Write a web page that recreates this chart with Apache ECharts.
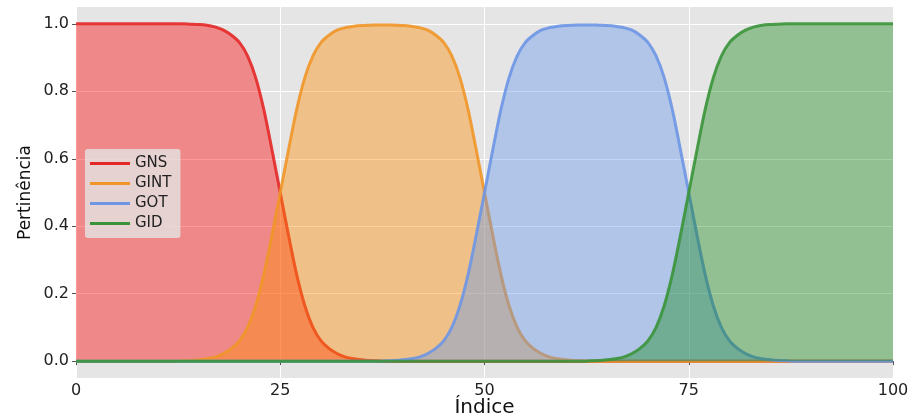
<!DOCTYPE html>
<html>
<head>
<meta charset="utf-8">
<script src="https://cdn.jsdelivr.net/npm/echarts@6/dist/echarts.min.js"></script>
<style>
  html, body { margin: 0; padding: 0; background: #ffffff; }
  #chart { width: 914px; height: 416px; }
</style>
</head>
<body>
<div id="chart"></div>
<script>
// Membership degrees sampled at every integer index 0..100
const seriesNames = ['GNS', 'GINT', 'GOT', 'GID'];

const gns = [
  1, 1, 1, 1, 1, 1, 1, 1, 1, 1,
  1, 1, 1, 1, 0.999, 0.998, 0.996, 0.991, 0.982, 0.967,
  0.945, 0.905, 0.84, 0.745, 0.625, 0.5, 0.375, 0.258, 0.165, 0.1,
  0.06, 0.037, 0.022, 0.012, 0.007, 0.004, 0.002, 0.001, 0, 0,
  0, 0, 0, 0, 0, 0, 0, 0, 0, 0,
  0, 0, 0, 0, 0, 0, 0, 0, 0, 0,
  0, 0, 0, 0, 0, 0, 0, 0, 0, 0,
  0, 0, 0, 0, 0, 0, 0, 0, 0, 0,
  0, 0, 0, 0, 0, 0, 0, 0, 0, 0,
  0, 0, 0, 0, 0, 0, 0, 0, 0, 0,
  0
];

const gint = [
  0, 0, 0, 0, 0, 0, 0, 0, 0, 0,
  0, 0, 0, 0.001, 0.002, 0.004, 0.007, 0.012, 0.022, 0.037,
  0.06, 0.1, 0.165, 0.258, 0.375, 0.5, 0.625, 0.745, 0.84, 0.905,
  0.945, 0.967, 0.982, 0.989, 0.993, 0.995, 0.996, 0.997, 0.997, 0.996,
  0.995, 0.993, 0.989, 0.982, 0.967, 0.945, 0.905, 0.84, 0.745, 0.625,
  0.5, 0.375, 0.258, 0.165, 0.1, 0.06, 0.037, 0.022, 0.012, 0.007,
  0.004, 0.002, 0.001, 0, 0, 0, 0, 0, 0, 0,
  0, 0, 0, 0, 0, 0, 0, 0, 0, 0,
  0, 0, 0, 0, 0, 0, 0, 0, 0, 0,
  0, 0, 0, 0, 0, 0, 0, 0, 0, 0,
  0
];

const got = [
  0, 0, 0, 0, 0, 0, 0, 0, 0, 0,
  0, 0, 0, 0, 0, 0, 0, 0, 0, 0,
  0, 0, 0, 0, 0, 0, 0, 0, 0, 0,
  0, 0, 0, 0, 0, 0, 0, 0, 0.001, 0.002,
  0.004, 0.007, 0.012, 0.022, 0.037, 0.06, 0.1, 0.165, 0.258, 0.375,
  0.5, 0.625, 0.745, 0.84, 0.905, 0.945, 0.967, 0.982, 0.989, 0.993,
  0.995, 0.996, 0.997, 0.997, 0.996, 0.995, 0.993, 0.989, 0.982, 0.967,
  0.945, 0.905, 0.84, 0.745, 0.625, 0.5, 0.375, 0.258, 0.165, 0.1,
  0.06, 0.037, 0.022, 0.012, 0.007, 0.004, 0.002, 0.001, 0, 0,
  0, 0, 0, 0, 0, 0, 0, 0, 0, 0,
  0
];

const gid = [
  0, 0, 0, 0, 0, 0, 0, 0, 0, 0,
  0, 0, 0, 0, 0, 0, 0, 0, 0, 0,
  0, 0, 0, 0, 0, 0, 0, 0, 0, 0,
  0, 0, 0, 0, 0, 0, 0, 0, 0, 0,
  0, 0, 0, 0, 0, 0, 0, 0, 0, 0,
  0, 0, 0, 0, 0, 0, 0, 0, 0, 0,
  0, 0, 0, 0.001, 0.002, 0.004, 0.007, 0.012, 0.022, 0.037,
  0.06, 0.1, 0.165, 0.258, 0.375, 0.5, 0.625, 0.745, 0.84, 0.905,
  0.945, 0.967, 0.982, 0.991, 0.996, 0.998, 0.999, 1, 1, 1,
  1, 1, 1, 1, 1, 1, 1, 1, 1, 1,
  1
];

const xTicks = [0, 25, 50, 75, 100];
const yTicks = [0, 0.2, 0.4, 0.6, 0.8, 1.0];

const lineColors = ['rgb(228,40,40)', 'rgb(240,150,40)', 'rgb(110,150,228)', 'rgb(58,148,58)'];
const fillColors = ['rgba(255,0,0,0.4)', 'rgba(255,140,0,0.4)', 'rgba(100,149,237,0.4)', 'rgba(0,128,0,0.36)'];

const indices = [];
for (let i = 0; i <= 100; i++) indices.push(i);
const pairs = arr => indices.map((x, i) => [x, arr[i]]);
const values = [gns, gint, got, gid];

const FONT = 'DejaVu Sans';

const chart = echarts.init(document.getElementById('chart'), null, { renderer: 'canvas' });

chart.setOption({
  animation: false,
  backgroundColor: '#ffffff',
  textStyle: { fontFamily: FONT },
  grid: {
    left: 76, right: 21, top: 7, bottom: 38,
    outerBoundsMode: 'none',
    containLabel: false,
    show: true, backgroundColor: '#e5e5e5', borderWidth: 0
  },
  legend: {
    data: seriesNames,
    orient: 'vertical',
    left: 85, top: 149,
    icon: 'rect',
    itemWidth: 40, itemHeight: 3,
    itemGap: 5,
    itemTextGap: 14,
    padding: [7, 9, 7, 5],
    backgroundColor: 'rgba(229,229,229,0.8)',
    borderRadius: 3,
    textStyle: { fontFamily: FONT, fontSize: 15, color: '#222', lineHeight: 15 }
  },
  xAxis: {
    type: 'value',
    min: 0, max: 100, interval: 25,
    name: 'Índice',
    nameLocation: 'middle',
    nameGap: 20,
    nameMoveOverlap: false,
    nameTextStyle: { fontFamily: FONT, fontSize: 20, color: '#111' },
    axisLine: { show: false },
    axisTick: { show: true, length: 4, lineStyle: { color: '#555' } },
    axisLabel: { fontFamily: FONT, fontSize: 16, color: '#222', margin: 5, customValues: xTicks },
    splitLine: { show: true, lineStyle: { color: '#ffffff', width: 1 } }
  },
  yAxis: {
    type: 'value',
    min: -0.05, max: 1.05,
    name: 'Pertinência',
    nameLocation: 'middle',
    nameGap: 42,
    nameMoveOverlap: false,
    nameTextStyle: { fontFamily: FONT, fontSize: 17, color: '#111' },
    axisLine: { show: false },
    axisTick: { show: true, length: 4, lineStyle: { color: '#555' }, customValues: yTicks },
    axisLabel: {
      fontFamily: FONT, fontSize: 16, color: '#222', margin: 7,
      customValues: yTicks,
      formatter: v => v.toFixed(1)
    },
    splitLine: { show: true, lineStyle: { color: '#ffffff', width: 1 } }
  },
  series: values.map((arr, k) => ({
    name: seriesNames[k],
    type: 'line',
    data: pairs(arr),
    showSymbol: false,
    smooth: 0.3,
    color: lineColors[k],
    lineStyle: { width: 3, color: lineColors[k], opacity: 0.9 },
    areaStyle: { color: fillColors[k], opacity: 1 },
    z: 2 + k
  }))
});
</script>
</body>
</html>
